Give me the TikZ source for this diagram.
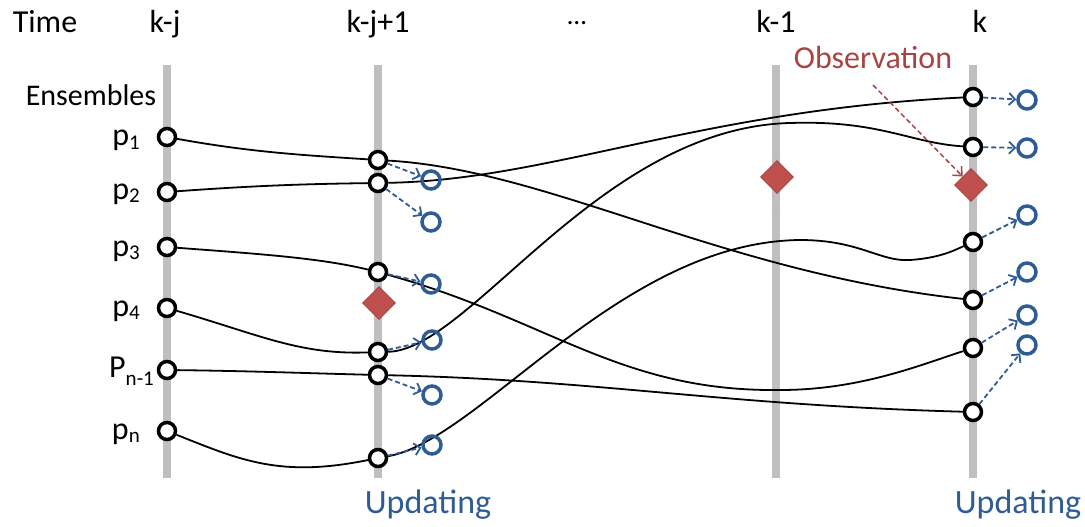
\documentclass[tikz,border=0pt]{standalone}
\usepackage{fontspec}
\setmainfont{Carlito}
\usetikzlibrary{shapes.geometric,arrows.meta}
\definecolor{barg}{HTML}{BFBFBF}
\definecolor{ublue}{HTML}{2E5C94}
\definecolor{dred}{HTML}{A84442}
\definecolor{dfill}{HTML}{C0504D}
\definecolor{dedge}{HTML}{A03F3C}
\pgfdeclarelayer{bg}\pgfsetlayers{bg,main}
\newcommand{\psub}[1]{\raisebox{-3pt}{\fontsize{21}{21}\selectfont #1}}
\begin{document}
\begin{tikzpicture}[x=1pt,y=-1pt,
 ens/.style={circle,draw=black,fill=white,line width=3.5pt,minimum size=17pt,inner sep=0pt},
 upd/.style={circle,draw=ublue,line width=3.5pt,minimum size=18pt,inner sep=0pt},
 obs/.style={diamond,fill=dfill,draw=dedge,line width=0.8pt,minimum width=33pt,minimum height=33pt,inner sep=0pt},
 bar/.style={line width=8pt,draw=barg},
 traj/.style={line width=1.8pt,draw=black},
 upar/.style={draw=ublue,line width=1.8pt,dash pattern=on 5pt off 3pt,-{Straight Barb[length=6pt,width=12pt,line width=1.8pt]}},
 obar/.style={draw=dred,line width=1.5pt,dash pattern=on 5pt off 3pt,-{Straight Barb[length=7pt,width=13pt,line width=1.5pt]}},
 big/.style={font=\fontsize{32}{38}\selectfont,inner sep=0pt,anchor=base},
 plab/.style={font=\fontsize{32}{38}\selectfont,inner sep=0pt,anchor=base east},
 upl/.style={font=\fontsize{34}{40}\selectfont,text=ublue,inner sep=0pt},
]
\useasboundingbox (0,0) rectangle (1085,527);
% top labels
\node[big] (time) at (45,33) {Time};
\node[big] (t1) at (165,33) {k-j};
\node[big] (t2) at (378,33) {k-j+1};
\node[big,font=\fontsize{27}{30}\selectfont] (t3) at (577,24.5) {…};
\node[big] (t4) at (776,33) {k-1};
\node[big] (t5) at (980,33) {k};
\node[font=\fontsize{30}{36}\selectfont,inner sep=0pt,anchor=base] (ensl) at (91,106) {Ensembles};
\node[upl] (up1) at (428,505) {Updating};
\node[upl] (up2) at (1018,505) {Updating};
\node[font=\fontsize{32}{38}\selectfont,text=dred,inner sep=0pt,anchor=base] (obsl) at (873,69) {Observation};
% bars
\coordinate (bt1) at (167,65); \coordinate (bb1) at (167,478);
\coordinate (bt2) at (378,65); \coordinate (bb2) at (378,478);
\coordinate (bt3) at (776,65); \coordinate (bb3) at (776,478);
\coordinate (bt4) at (973,65); \coordinate (bb4) at (973,478);
% ensemble circles
\node[ens] (a1) at (167,137) {}; \node[ens] (a2) at (167,192) {};
\node[ens] (a3) at (167,247) {}; \node[ens] (a4) at (167,308) {};
\node[ens] (a5) at (167,370) {}; \node[ens] (a6) at (167,431) {};
\node[ens] (b1) at (378,160) {}; \node[ens] (b2) at (378,183) {};
\node[ens] (b3) at (378,272) {}; \node[ens] (b4) at (378,352) {};
\node[ens] (b5) at (378,375) {}; \node[ens] (b6) at (378,458) {};
\node[ens] (d1) at (973,97) {};  \node[ens] (d2) at (973,147) {};
\node[ens] (d3) at (973,242) {}; \node[ens] (d4) at (973,300) {};
\node[ens] (d5) at (973,348) {}; \node[ens] (d6) at (973,412) {};
% updated circles
\node[upd] (u1) at (431,180) {}; \node[upd] (u2) at (431,222) {};
\node[upd] (u3) at (431,284) {}; \node[upd] (u4) at (432,340) {};
\node[upd] (u5) at (432,395) {}; \node[upd] (u6) at (432,445) {};
\node[upd] (v1) at (1027,100) {}; \node[upd] (v2) at (1027,148) {};
\node[upd] (v3) at (1027,215) {}; \node[upd] (v4) at (1027,272) {};
\node[upd] (v5) at (1027,315) {}; \node[upd] (v6) at (1027,345) {};
% observations
\node[obs] (o2) at (379,303) {};
\node[obs] (o3) at (777,177) {};
\node[obs] (o4) at (971,185) {};
% p labels
\node[plab] (l1) at (140,146) {p\psub{1}};
\node[plab] (l2) at (140,199) {p\psub{2}};
\node[plab] (l3) at (140,256) {p\psub{3}};
\node[plab] (l4) at (140,316) {p\psub{4}};
\node[plab,anchor=base west] (l5) at (109,377) {P\raisebox{-8pt}{\fontsize{21}{21}\selectfont n-1}};
\node[plab] (l6) at (140,439) {p\psub{n}};
\begin{pgfonlayer}{bg}
\foreach \i in {1,2,3,4} \draw[bar] (bt\i) -- (bb\i);
% first interval
\draw[traj] (a1) .. controls (250,152) and (300,155) .. (b1);
\draw[traj] (a2) .. controls (250,186) and (300,184) .. (b2);
\draw[traj] (a3) .. controls (260,254) and (320,258) .. (b3);
\draw[traj] (a4) .. controls (260,335) and (300,355) .. (b4);
\draw[traj] (a5) .. controls (250,371) and (300,373) .. (b5);
\draw[traj] (a6) .. controls (240,460) and (280,478) .. (b6);
% long trajectories
\draw[traj] (b1) .. controls (550,170) and (720,272) .. (d4);
\draw[traj] (b2) .. controls (550,180) and (700,110) .. (d1);
\draw[traj] (b4) .. controls (470,350) and (600,128) .. (790,123) .. controls (880,120) and (910,143) .. (d2);
\draw[traj] (b3) .. controls (550,320) and (620,392) .. (780,390) .. controls (860,390) and (920,365) .. (d5);
\draw[traj] (b5) .. controls (600,380) and (720,405) .. (d6);
\draw[traj] (b6) .. controls (480,440) and (620,242) .. (800,240) .. controls (860,240) and (880,262) .. (910,260) .. controls (940,258) and (955,250) .. (d3);
\end{pgfonlayer}
% updating arrows
\foreach \s/\t in {b1/u1,b2/u2,b3/u3,b4/u4,b5/u5,b6/u6,d1/v1,d2/v2,d3/v3,d4/v4,d5/v5,d6/v6}
  \draw[upar] (\s) -- (\t);
\coordinate (oa) at (873,85);
\draw[obar] (oa) -- (o4);
\end{tikzpicture}
\end{document}
